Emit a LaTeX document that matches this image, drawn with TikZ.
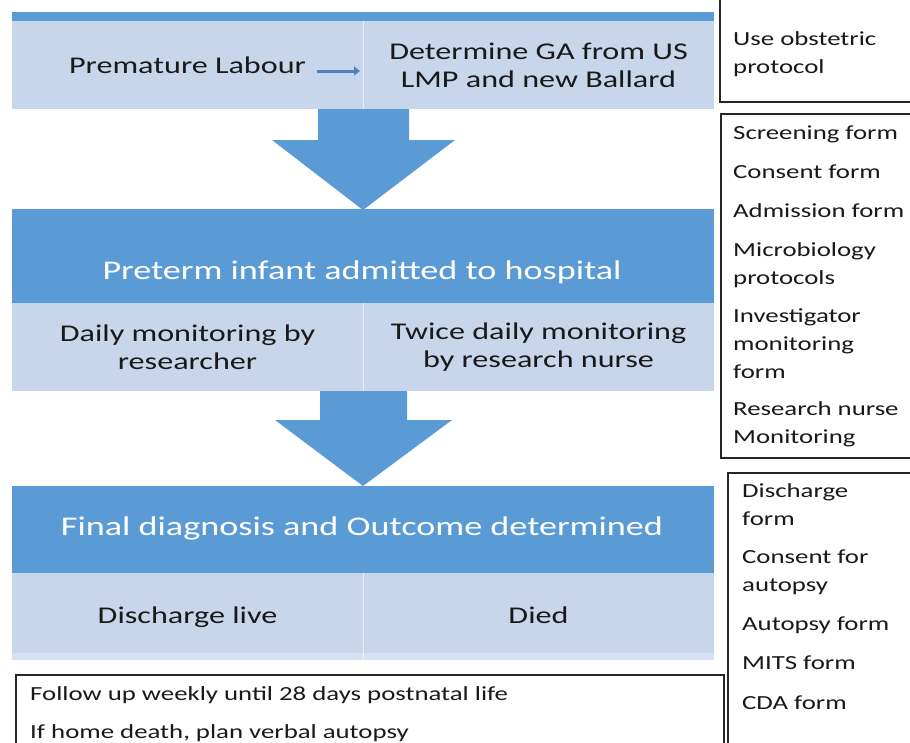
\documentclass[tikz,border=0pt]{standalone}
\usepackage{fontspec}
\setmainfont{Carlito}[FakeStretch=1.34]
\usetikzlibrary{arrows.meta}
\definecolor{dkblue}{HTML}{5B9BD5}
\definecolor{ltblue}{HTML}{C8D6EC}
\definecolor{ltstrip}{HTML}{D6E1F1}
\definecolor{arrblue}{HTML}{4F81BD}
\begin{document}
\begin{tikzpicture}[x=1pt,y=-1pt,
  hdr/.style={fill=dkblue, draw=none, inner sep=0pt, minimum width=702pt},
  cell/.style={fill=ltblue, draw=none, inner sep=0pt, minimum width=351pt, align=center, text=black!90},
  bigtxt/.style={font=\fontsize{24}{28}\selectfont},
  titletxt/.style={text=white, inner sep=0pt},
  side/.style={draw=black!85, line width=1.2pt, fill=white},
  sidetxt/.style={anchor=north west, inner sep=0pt, align=left, text=black!90, font=\fontsize{20}{28}\selectfont},
  blockarrow/.style={fill=dkblue, draw=none}
]
\useasboundingbox (0,0) rectangle (910,742);
\clip (0,0) rectangle (910,742);

% ---------- top block ----------
\node[hdr, minimum height=9pt] (h1) at (363,16.5) {};
\node[cell, bigtxt, minimum height=88pt] (c1l) at (187.5,65) {Premature Labour};
\node[cell, bigtxt, minimum height=88pt] (c1r) at (538.5,65) {Determine GA from US\\LMP and new Ballard};
\draw[white, line width=1pt, opacity=0.6] (c1l.north east) -- (c1l.south east);
\coordinate (pa) at (317,71);
\coordinate (pb) at (360,71);
\draw[arrblue, line width=3pt, -{Triangle[length=6pt,width=9pt]}] (pa) -- (pb);

% ---------- arrow 1 ----------
\fill[blockarrow] (318,109) -- (409,109) -- (409,140) -- (455,140) -- (363,210) -- (272,140) -- (318,140) -- cycle;

% ---------- block 2 ----------
\node[hdr, minimum height=94pt] (h2) at (363,256) {};
\node[titletxt, font=\fontsize{27}{32}\selectfont] (t2) at (362,272) {Preterm infant admitted to hospital};
\node[cell, bigtxt, minimum height=88pt] (c2l) at (187.5,347) {Daily monitoring by\\researcher};
\node[cell, bigtxt, minimum height=88pt] (c2r) at (538.5,347) {Twice daily monitoring\\by research nurse};
\draw[white, line width=1pt, opacity=0.6] (c2l.north east) -- (c2l.south east);

% ---------- arrow 2 ----------
\fill[blockarrow] (320,391) -- (407,391) -- (407,420) -- (452,420) -- (363,486) -- (275,420) -- (320,420) -- cycle;

% ---------- block 3 ----------
\node[hdr, minimum height=87pt] (h3) at (363,529.5) {};
\node[titletxt, font=\fontsize{27}{32}\selectfont] (t3) at (362,528) {Final diagnosis and Outcome determined};
\node[cell, bigtxt, minimum height=87pt, text depth=2pt] (c3l) at (187.5,616.5) {Discharge live};
\node[cell, bigtxt, minimum height=87pt, text depth=2pt] (c3r) at (538.5,616.5) {Died};
\fill[ltstrip] (12,653) rectangle (714,660);
\draw[white, line width=1pt, opacity=0.6] (c3l.north east) -- (c3l.south east);

% ---------- side boxes ----------
\draw[side] (720,-5) rectangle (916,102);
\node[sidetxt] (s1) at (733,31) {Use obstetric\\protocol};

\draw[side] (721,114) rectangle (916,458);
\node[sidetxt] (s2) at (733,126) {Screening form\\[11pt]Consent form\\[11pt]Admission form\\[11pt]Microbiology\\protocols\\[10pt]Investigator\\monitoring\\form\\[9pt]Research nurse\\Monitoring};

\draw[side] (728,473) rectangle (916,750);
\node[sidetxt] (s3) at (742,483) {Discharge\\form\\[10pt]Consent for\\autopsy\\[11pt]Autopsy form\\[11pt]MITS form\\[12pt]CDA form};

\draw[side] (16,675) rectangle (724,750);
\node[sidetxt, font=\fontsize{20}{38}\selectfont] (s4) at (30,686) {Follow up weekly until 28 days postnatal life\\If home death, plan verbal autopsy};
\end{tikzpicture}
\end{document}
